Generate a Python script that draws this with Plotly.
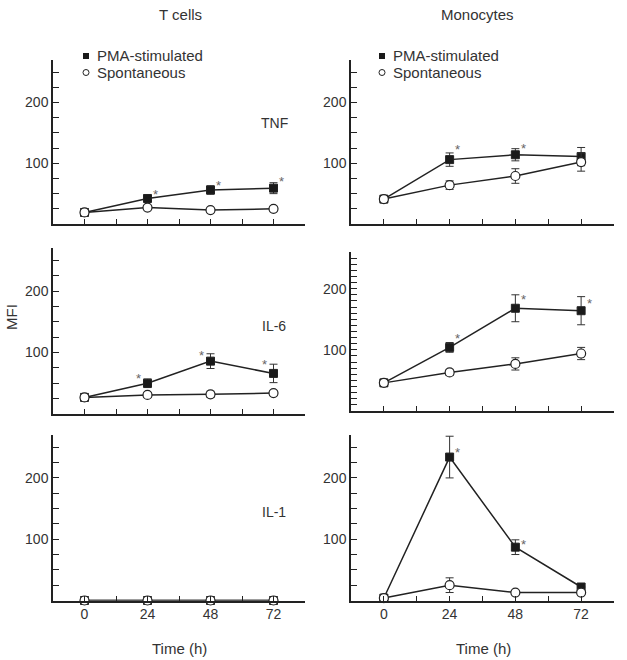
import plotly.graph_objects as go

# ---------------- data ----------------
time_h = [0, 24, 48, 72]

# TNF
tnf_t_pma = [19, 42, 56, 59]
tnf_t_pma_err = [0, 3, 7, 9]
tnf_t_spon = [19, 27, 23, 25]
tnf_t_spon_err = [0, 3, 3, 4]
tnf_t_star = [None, 53, 69, 75]

tnf_m_pma = [41, 106, 114, 111]
tnf_m_pma_err = [0, 11, 10, 15]
tnf_m_spon = [41, 64, 79, 102]
tnf_m_spon_err = [0, 7, 12, 15]
tnf_m_star = [None, 127, 130, None]

# IL-6
il6_t_pma = [27, 50, 86, 66]
il6_t_pma_err = [0, 7, 12, 15]
il6_t_spon = [27, 31, 32, 34]
il6_t_spon_err = [0, 4, 5, 4]
il6_t_star = [None, 62, 100, 86]

il6_m_pma = [46, 104, 168, 164]
il6_m_pma_err = [0, 8, 22, 23]
il6_m_spon = [46, 63, 77, 94]
il6_m_spon_err = [0, 5, 10, 10]
il6_m_star = [None, 124, 188, 180]

# IL-1
il1_t_pma = [0, 0, 0, 0]
il1_t_pma_err = [0, 0, 0, 0]
il1_t_spon = [0, 0, 0, 0]
il1_t_spon_err = [0, 0, 0, 0]
il1_t_star = [None, None, None, None]

il1_m_pma = [4, 234, 87, 22]
il1_m_pma_err = [0, 34, 12, 0]
il1_m_spon = [4, 25, 13, 13]
il1_m_spon_err = [0, 12, 0, 0]
il1_m_star = [None, 246, 97, None]

x_tick_vals = [0, 12, 24, 36, 48, 60, 72, 84]
x_tick_text = ["0", "", "24", "", "48", "", "72", ""]
y_labels = {100: "100", 200: "200"}

column_titles = ["T cells", "Monocytes"]
cytokines = ["TNF", "IL-6", "IL-1"]
series_names = ["PMA-stimulated", "Spontaneous"]

# ---------------- layout helpers ----------------
W, H = 627, 660
def px(x):
    return x / W
def py(y):
    return 1 - y / H

INK = "#222222"
TXT = "#333333"
FONT = "Liberation Sans, Arial, sans-serif"

panels = [
    (tnf_t_pma, tnf_t_pma_err, tnf_t_spon, tnf_t_spon_err, tnf_t_star, 0, 0),
    (tnf_m_pma, tnf_m_pma_err, tnf_m_spon, tnf_m_spon_err, tnf_m_star, 1, 0),
    (il6_t_pma, il6_t_pma_err, il6_t_spon, il6_t_spon_err, il6_t_star, 0, 1),
    (il6_m_pma, il6_m_pma_err, il6_m_spon, il6_m_spon_err, il6_m_star, 1, 1),
    (il1_t_pma, il1_t_pma_err, il1_t_spon, il1_t_spon_err, il1_t_star, 0, 2),
    (il1_m_pma, il1_m_pma_err, il1_m_spon, il1_m_spon_err, il1_m_star, 1, 2),
]

col_px = [(53, 305), (351, 614)]
row_px = {
    (0, 0): (60, 224), (1, 0): (60, 224),
    (0, 1): (248, 414), (1, 1): (252, 411),
    (0, 2): (435, 600.5), (1, 2): (435, 600.5),
}
y_max = {(1, 1): 260}
y_minor = {(1, 1): 10}

fig = go.Figure()
annotations = []
layout_axes = {}

def note(x, y, text, size=15, xanchor="center", **kw):
    d = dict(x=px(x), y=py(y), xref="paper", yref="paper", text=text,
             showarrow=False, xanchor=xanchor, yanchor="middle",
             font=dict(family=FONT, size=size, color=TXT))
    d.update(kw)
    return d

for i, (pma, pma_e, spon, spon_e, star, col, row) in enumerate(panels):
    n = i + 1
    xa = "x" if n == 1 else f"x{n}"
    ya = "y" if n == 1 else f"y{n}"
    xkey = "xaxis" if n == 1 else f"xaxis{n}"
    ykey = "yaxis" if n == 1 else f"yaxis{n}"

    fig.add_trace(go.Scatter(
        x=time_h, y=pma, xaxis=xa, yaxis=ya, mode="lines+markers",
        name=series_names[0], showlegend=False, cliponaxis=False,
        line=dict(color=INK, width=1.5),
        marker=dict(symbol="square", size=8, color="#1a1a1a",
                    line=dict(color=INK, width=1)),
        error_y=dict(type="data", array=pma_e, visible=True,
                     color="#333333", thickness=1, width=4),
    ))
    fig.add_trace(go.Scatter(
        x=time_h, y=spon, xaxis=xa, yaxis=ya, mode="lines+markers",
        name=series_names[1], showlegend=False, cliponaxis=False,
        line=dict(color=INK, width=1.5),
        marker=dict(symbol="circle", size=9, color="white",
                    line=dict(color=INK, width=1.2)),
        error_y=dict(type="data", array=spon_e, visible=True,
                     color="#333333", thickness=1, width=4),
    ))

    ymax = y_max.get((col, row), 270)
    step = y_minor.get((col, row), 25)
    yt = list(range(step, ymax, step))
    ytext = [y_labels.get(v, "") for v in yt]
    x0, x1 = col_px[col]
    top, bot = row_px[(col, row)]

    layout_axes[xkey] = dict(
        domain=[px(x0), px(x1)], anchor=ya, range=[-12, 84],
        tickmode="array", tickvals=x_tick_vals,
        ticktext=x_tick_text if row == 2 else [""] * len(x_tick_vals),
        ticks="inside", ticklen=5, tickwidth=1, tickcolor=INK,
        showline=True, linecolor=INK, linewidth=1.5,
        showgrid=False, zeroline=False,
        tickfont=dict(family=FONT, size=14, color=TXT),
    )
    layout_axes[ykey] = dict(
        domain=[py(bot), py(top)], anchor=xa, range=[0, ymax],
        tickmode="array", tickvals=yt, ticktext=ytext,
        ticks="inside", ticklen=6, tickwidth=1, tickcolor=INK,
        showline=True, linecolor=INK, linewidth=1.5,
        showgrid=False, zeroline=False,
        tickfont=dict(family=FONT, size=14, color=TXT),
    )

    xs = -9 if (col, row) == (0, 1) else 8
    for t, s in zip(time_h, star):
        if s is None:
            continue
        annotations.append(dict(
            x=t, y=s, xref=xa, yref=ya, text="*", showarrow=False,
            xanchor="center", yanchor="middle", xshift=xs, yshift=-3,
            font=dict(family=FONT, size=13, color="#666666"),
        ))

for label, ycen in zip(cytokines, [123, 326, 512]):
    annotations.append(note(274, ycen, label, size=14))

for title, xc in zip(column_titles, [180, 477]):
    annotations.append(note(xc, 15, title))

for xc in [179, 483]:
    annotations.append(note(xc, 648, "Time (h)"))

annotations.append(note(12, 317, "MFI", textangle=-90))

shapes = []
for mx, tx in [(86, 95), (382, 391)]:
    annotations.append(note(tx, 56, series_names[0], xanchor="left"))
    annotations.append(note(tx, 72, series_names[1], xanchor="left"))
    shapes.append(dict(type="rect", xref="paper", yref="paper",
                       x0=px(mx - 3), x1=px(mx + 3), y0=py(59), y1=py(53),
                       fillcolor="#1a1a1a", line=dict(width=0)))
    shapes.append(dict(type="circle", xref="paper", yref="paper",
                       x0=px(mx - 3), x1=px(mx + 3), y0=py(75.5), y1=py(69.5),
                       fillcolor="white", line=dict(color=INK, width=1)))

fig.update_layout(
    width=W, height=H, margin=dict(l=0, r=0, t=0, b=0),
    paper_bgcolor="white", plot_bgcolor="white",
    showlegend=False, annotations=annotations, shapes=shapes,
    font=dict(family=FONT, color=TXT),
    **layout_axes,
)

fig.write_html("out.html",
               config={"displayModeBar": False},
               post_script="document.body.style.margin='0';"
                           "document.body.style.overflow='hidden';")
